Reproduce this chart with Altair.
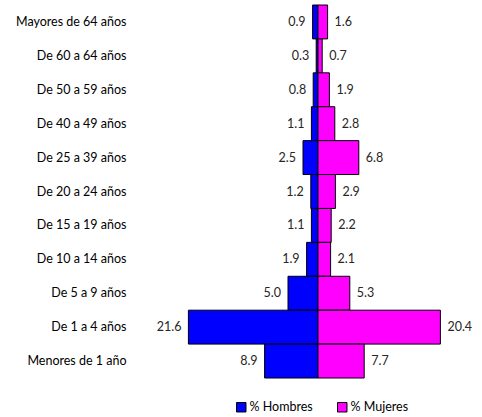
import altair as alt
import pandas as pd

categories = ["Mayores de 64 años", "De 60 a 64 años", "De 50 a 59 años", "De 40 a 49 años",
              "De 25 a 39 años", "De 20 a 24 años", "De 15 a 19 años", "De 10 a 14 años",
              "De 5 a 9 años", "De 1 a 4 años", "Menores de 1 año"]
hombres = [0.9, 0.3, 0.8, 1.1, 2.5, 1.2, 1.1, 1.9, 5.0, 21.6, 8.9]
mujeres = [1.6, 0.7, 1.9, 2.8, 6.8, 2.9, 2.2, 2.1, 5.3, 20.4, 7.7]
series = ["% Hombres", "% Mujeres"]

rows = []
for c, h, m in zip(categories, hombres, mujeres):
    rows.append({"cat": c, "serie": series[0], "val": -h, "lab": f"{h:.1f}"})
    rows.append({"cat": c, "serie": series[1], "val": m, "lab": f"{m:.1f}"})
df = pd.DataFrame(rows)

FONT = "Lato"
FS = 12.5
y_enc = alt.Y("cat:N", sort=categories, title=None,
              scale=alt.Scale(paddingInner=0, paddingOuter=0),
              axis=alt.Axis(domain=False, ticks=False, labelPadding=36, labelFont=FONT,
                            labelFontSize=FS, labelColor="#000000", labelLimit=200))

bars = alt.Chart(df).mark_bar(stroke="black", strokeWidth=1).encode(
    x=alt.X("val:Q", scale=alt.Scale(domain=[-26, 26], nice=False, zero=False), axis=None),
    y=y_enc,
    color=alt.Color("serie:N", sort=series,
                    scale=alt.Scale(domain=series, range=["#0000FF", "#FF00FF"]),
                    legend=alt.Legend(title=None, orient="none", direction="horizontal",
                                      legendX=73, legendY=396, symbolType="square",
                                      symbolSize=90, symbolStrokeColor="black",
                                      symbolStrokeWidth=1, labelFont=FONT, labelFontSize=FS,
                                      labelColor="#000000", columnPadding=22, labelOffset=2)),
)

left = alt.Chart(df).transform_filter(alt.datum.serie == series[0]).mark_text(
    align="right", baseline="middle", dx=-7, font=FONT, fontSize=FS, color="#262626"
).encode(x="val:Q", y=alt.Y("cat:N", sort=categories), text="lab:N")

right = alt.Chart(df).transform_filter(alt.datum.serie == series[1]).mark_text(
    align="left", baseline="middle", dx=7, font=FONT, fontSize=FS, color="#262626"
).encode(x="val:Q", y=alt.Y("cat:N", sort=categories), text="lab:N")

chart = alt.layer(bars, left, right).properties(
    width=312, height=373,
    autosize=alt.AutoSizeParams(type="none"),
    padding={"left": 162, "top": 5, "right": 8, "bottom": 39},
).configure_view(stroke=None)

chart.save("out.html", embed_options={"renderer": "svg", "actions": False})
